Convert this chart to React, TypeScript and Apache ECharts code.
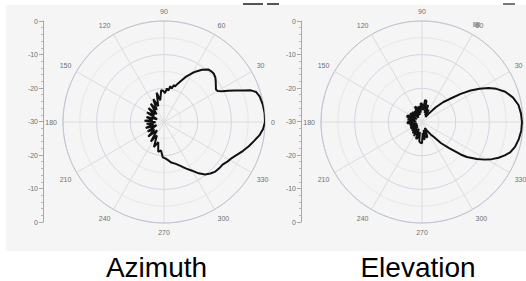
import React, { useEffect, useRef } from "react";
import * as echarts from "echarts";

// Azimuth pattern (angle in degrees, gain in dB)
const azAngles = [
  0, 5, 10, 15, 18, 20, 22, 24, 26, 28, 30, 32, 35, 38, 41, 44, 47, 50, 54, 57, 60, 64, 67, 70, 73, 75, 77, 80, 82, 85, 88, 91, 95,
  100, 104, 110, 115, 121, 126, 133, 138, 145, 151, 158, 164, 170, 176, 181, 186, 192, 198, 204, 210, 217, 223, 230, 236, 242, 248, 254, 259, 264, 268,
  272, 276, 280, 285, 290, 295, 300, 304, 308, 312, 316, 320, 324, 328, 332, 336, 340, 344, 348, 352, 356, 360,
];
const azGain = [
  0, 0, -0.2, -0.6, -1.2, -2.5, -5, -7, -8.8, -10.5, -11.6, -11.8, -11.2, -10.5, -9.8, -9.4, -9.4, -9.6, -10.8, -12, -13.2, -15, -16.5, -17.8, -19, -18.6, -19.8, -19.2, -20.6, -20, -21.4, -20.8, -20.5,
  -23.5, -21, -25, -22.5, -25.8, -23.3, -26.8, -23.8, -26.5, -24.2, -27.8, -24.6, -26.6, -24.2, -27.5, -24.8, -26.8, -24.3, -27.6, -24.4, -26.4, -23.6, -26.8, -23, -25.5, -22, -23.8, -21, -21.5, -19.5,
  -19.2, -18.6, -17.8, -17.2, -16.2, -14.8, -13.3, -11.6, -10.2, -9.4, -8.8, -8.6, -8.5, -7.8, -7.2, -6.2, -5, -3.8, -2.7, -1.4, -0.5, 0,
];

// Elevation pattern (angle in degrees, gain in dB)
const elAngles = [
  0, 5, 10, 15, 20, 24, 27, 30, 33, 36, 40, 43, 47, 51, 55,
  58, 62, 66, 70, 74, 78, 82, 86, 90, 94, 98, 102, 106, 110, 115, 120, 125, 130, 135, 140, 145, 150, 155, 160, 165, 170, 175, 180,
  185, 190, 195, 200, 205, 210, 215, 220, 225, 230, 235, 240, 245, 250, 254, 258, 262, 266, 270, 274, 278, 282, 286, 290, 294, 297,
  300, 305, 308, 312, 316, 320, 322, 326, 329, 332, 335, 338, 341, 345, 350, 355, 360,
];
const elGain = [
  -0.3, -0.5, -0.9, -2, -3.7, -5.8, -7.8, -10.3, -12.8, -15.8, -19.5, -21.3, -24, -26.8, -28.2,
  -27.5, -25.8, -27.8, -24.6, -27.2, -23.6, -23.4, -26.5, -24.6, -24.4, -27.2, -25.2, -27.8, -25.4, -25, -28, -26, -28.4, -25.8, -27.5, -25.6, -28.2, -25.4, -25.2, -27.8, -25.6, -28.3, -25.8,
  -25.6, -28.2, -26.2, -28.5, -26.4, -26.2, -28.4, -26, -28.2, -25.6, -27.5, -25.2, -27.8, -24.8, -24.9, -27, -24.2, -23.8, -23.7, -26.8, -24.6, -27.6, -25.2, -25.4, -27.8, -28,
  -27, -25.5, -24.4, -21.5, -18.8, -15, -13.1, -10.3, -8.3, -6.5, -4.9, -3.5, -2.3, -1.4, -0.8, -0.4, -0.3,
];

const yTickLabels = ["0", "-10", "-20", "-30", "-20", "-10", "0"];
const titles = ["Azimuth", "Elevation"];

export default function App() {
  const ref = useRef<HTMLDivElement>(null);
  useEffect(() => {
    document.body.style.margin = "0";
    const chart = echarts.init(ref.current!, null, { renderer: "svg" });
    const font = "Liberation Sans";
    const centers = [
      [164, 122],
      [422, 122],
    ];
    const axisLeft = [43, 301];
    const polar = centers.map((c) => ({ center: c, radius: 101 }));
    const angleAxis = centers.map((_, i) => ({
      polarIndex: i,
      type: "value",
      min: 0,
      max: 360,
      interval: 30,
      startAngle: 0,
      clockwise: false,
      axisLine: { show: true, lineStyle: { color: "#c2c4d0", width: 1 } },
      axisTick: { show: false },
      axisLabel: {
        show: true,
        fontSize: 7,
        color: "#707070",
        fontFamily: font,
        margin: 6,
        // the right-hand plot is cut by the picture edge, so its "0" label is not visible
        formatter: (v: number) => (i === 1 && v % 360 === 0 ? "" : String(v)),
      },
      splitLine: { show: true, lineStyle: { color: "#dcdcdc", width: 1 } },
    }));
    const radiusAxis = centers.map((_, i) => ({
      polarIndex: i,
      type: "value",
      min: -30,
      max: 0,
      interval: 5,
      axisLine: { show: false },
      axisTick: { show: false },
      axisLabel: { show: false },
      splitLine: { show: true, lineStyle: { color: ["#d2d4e4", "#e6e6ee"], width: 1 } },
    }));
    const grid = axisLeft.map((l) => ({ left: l, top: 21, width: 1, height: 201 }));
    const xAxis = axisLeft.map((_, i) => ({ gridIndex: i, type: "value", show: false }));
    const yAxis = axisLeft.map((_, i) => ({
      gridIndex: i,
      type: "value",
      min: 0,
      max: 60,
      interval: 10,
      axisLine: { show: true, lineStyle: { color: "#a8a8a8" } },
      axisTick: { show: true, length: 4, lineStyle: { color: "#a8a8a8" } },
      minorTick: { show: true, splitNumber: 5, length: 2, lineStyle: { color: "#b8b8b8" } },
      splitLine: { show: false },
      axisLabel: {
        fontSize: 7,
        color: "#707070",
        fontFamily: font,
        margin: 5,
        formatter: (v: number) => yTickLabels[Math.round(v / 10)],
      },
    }));
    const series = [
      {
        type: "line",
        coordinateSystem: "polar",
        polarIndex: 0,
        data: azGain.map((g, i) => [g, azAngles[i]]),
        symbol: "none",
        lineStyle: { color: "#111", width: 2 },
        z: 5,
      },
      {
        type: "line",
        coordinateSystem: "polar",
        polarIndex: 1,
        data: elGain.map((g, i) => [g, elAngles[i]]),
        symbol: "none",
        lineStyle: { color: "#111", width: 2 },
        z: 5,
      },
    ];
    chart.setOption({
      animation: false,
      polar,
      angleAxis,
      radiusAxis,
      grid,
      xAxis,
      yAxis,
      series,
      graphic: [
        { type: "rect", z: -100, shape: { x: 6, y: 5, width: 520, height: 246 }, style: { fill: "#f5f5f5" } },
        { type: "rect", z: -90, shape: { x: 243, y: 3, width: 20, height: 2 }, style: { fill: "#555" } },
        { type: "rect", z: -90, shape: { x: 267, y: 3, width: 12, height: 2 }, style: { fill: "#555" } },
        { type: "rect", z: -90, shape: { x: 503, y: 3, width: 12, height: 2 }, style: { fill: "#777" } },
        { type: "rect", z: -90, shape: { x: 473, y: 22, width: 7, height: 5 }, style: { fill: "#b0b0b0" } },
        {
          type: "text",
          x: 156.5,
          y: 267,
          style: { text: titles[0], fontSize: 28, fontFamily: font, fill: "#000", align: "center", verticalAlign: "middle" },
        },
        {
          type: "text",
          x: 418,
          y: 267,
          style: { text: titles[1], fontSize: 28, fontFamily: font, fill: "#000", align: "center", verticalAlign: "middle" },
        },
      ],
    });
    return () => chart.dispose();
  }, []);
  return <div ref={ref} style={{ width: 526, height: 281 }} />;
}
